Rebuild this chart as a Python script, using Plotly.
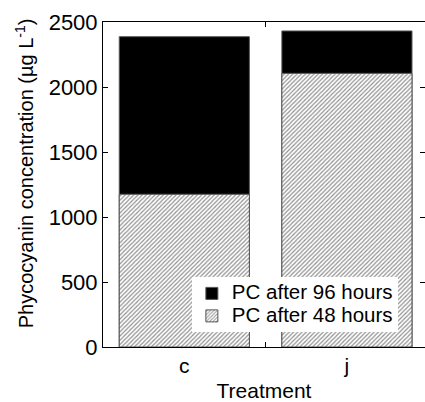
import plotly.graph_objects as go

treatments = ["c", "j"]
pc_96h = [2387, 2431]
pc_48h = [1175, 2105]
y_ticks = [0, 500, 1000, 1500, 2000, 2500]

FONT = "Liberation Sans, Arial, sans-serif"

def legend_label(txt):
    return '<span style="font-size:20.5px">' + txt + '</span>'

fig = go.Figure()
fig.add_trace(go.Bar(
    x=treatments, y=pc_96h, name=legend_label("PC after 96 hours"), width=0.8,
    marker=dict(color="black", line=dict(color="#555555", width=1)),
))
fig.add_trace(go.Bar(
    x=treatments, y=pc_48h, name=legend_label("PC after 48 hours"), width=0.8,
    marker=dict(color="white", line=dict(color="#555555", width=1),
                pattern=dict(shape="/", fgcolor="#222222", bgcolor="white",
                             size=3, solidity=0.4)),
))

fig.update_layout(
    width=425, height=402,
    margin=dict(l=103, r=0, t=22, b=55),
    barmode="overlay",
    plot_bgcolor="white", paper_bgcolor="white",
    font=dict(family=FONT, size=21, color="black"),
    showlegend=True,
    legend=dict(x=0.276, y=0.215, xanchor="left", yanchor="top",
                bgcolor="white", borderwidth=0, font=dict(size=15),
                traceorder="normal"),
    xaxis=dict(range=[-0.5, 1.48], showline=True, linecolor="black", linewidth=1,
               mirror="ticks", ticks="inside", ticklen=5, tickson="boundaries",
               tickcolor="black", showgrid=False, tickfont=dict(size=21),
               title=dict(text="Treatment", standoff=11, font=dict(size=21))),
    yaxis=dict(range=[0, 2500], tickvals=y_ticks, showline=True, linecolor="black",
               linewidth=1, mirror="ticks", ticks="inside", ticklen=5,
               tickcolor="black", showgrid=False, zeroline=False,
               tickfont=dict(size=22)),
    annotations=[dict(
        text="Phycocyanin concentration (µg L<sup>-1</sup>)",
        xref="paper", yref="paper", x=-0.245, y=0.535,
        xanchor="center", yanchor="middle", textangle=-90,
        showarrow=False, font=dict(size=20))],
)

fig.write_html("out.html")
